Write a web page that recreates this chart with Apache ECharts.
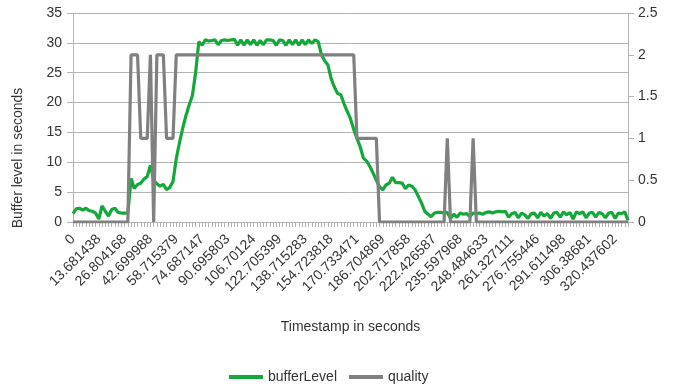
<!DOCTYPE html>
<html>
<head>
<meta charset="utf-8">
<script src="https://cdn.jsdelivr.net/npm/echarts@6/dist/echarts.min.js"></script>
<style>
  html, body { margin: 0; padding: 0; background: #fff; }
  #chart { width: 673px; height: 388px; }
</style>
</head>
<body>
<div id="chart"></div>
<script>
// Labels printed under every 8th sample on the time axis
const tickLabels = [
  '0', '13.681438', '26.804168', '42.699988', '58.715379', '74.687147',
  '90.695803', '106.70124', '122.705399', '138.715283', '154.723818',
  '170.733471', '186.704869', '202.717858', '222.426587', '235.597968',
  '248.484633', '261.327111', '276.755446', '291.611498', '306.38681',
  '320.437602'
];

// Buffer level (seconds), one value per sample
const bufferLevel = [
  1.4, 2.2, 2.3, 2.0, 2.3, 1.9, 1.8, 1.5, 0.5, 2.7,
  1.8, 1.0, 2.1, 2.3, 1.6, 1.5, 1.5, 1.5, 7.3, 5.6,
  6.3, 6.5, 7.2, 7.6, 9.5, 7.0, 6.4, 6.0, 6.3, 5.4,
  5.8, 6.8, 10.6, 13.3, 15.7, 17.8, 19.6, 21.2, 25.0, 30.2,
  29.6, 30.5, 30.3, 30.4, 30.5, 29.7, 30.4, 30.5, 30.4, 30.5,
  30.6, 29.6, 30.5, 29.6, 30.5, 29.7, 30.5, 29.6, 30.4, 29.7,
  30.5, 30.5, 30.4, 29.6, 30.5, 30.4, 29.6, 30.5, 29.7, 30.5,
  29.6, 30.5, 29.7, 30.5, 29.9, 30.5, 30.2, 28.0, 27.0, 26.3,
  24.0, 22.6, 21.5, 21.3, 19.8, 18.5, 17.3, 15.5, 14.0, 12.6,
  10.7, 10.2, 9.3, 8.2, 7.0, 5.9, 5.4, 6.2, 6.5, 7.5,
  6.6, 6.6, 6.5, 5.6, 6.2, 6.0, 5.4, 4.3, 3.2, 1.8,
  1.3, 0.9, 1.5, 1.6, 1.6, 1.5, 1.6, 0.6, 1.3, 0.8,
  1.5, 1.3, 1.4, 0.9, 1.5, 1.4, 1.5, 1.3, 1.6, 1.7,
  1.5, 1.7, 1.8, 1.7, 1.8, 0.8, 1.4, 1.6, 0.7, 1.5,
  1.2, 0.6, 1.4, 1.5, 0.7, 1.6, 1.0, 1.4, 0.6, 1.5,
  1.6, 0.8, 1.7, 1.2, 1.6, 0.5, 1.7, 1.4, 1.7, 0.7,
  1.5, 1.6, 0.8, 1.6, 1.4, 0.7, 1.5, 1.6, 0.6, 1.5,
  1.4, 1.7, 0.3
];

// Selected quality index, one value per sample
const quality = [
  0, 0, 0, 0, 0, 0, 0, 0, 0, 0,
  0, 0, 0, 0, 0, 0, 0, 0, 2, 2,
  2, 1, 1, 1, 2, 0, 2, 2, 2, 1,
  1, 1, 2, 2, 2, 2, 2, 2, 2, 2,
  2, 2, 2, 2, 2, 2, 2, 2, 2, 2,
  2, 2, 2, 2, 2, 2, 2, 2, 2, 2,
  2, 2, 2, 2, 2, 2, 2, 2, 2, 2,
  2, 2, 2, 2, 2, 2, 2, 2, 2, 2,
  2, 2, 2, 2, 2, 2, 2, 2, 1, 1,
  1, 1, 1, 1, 1, 0, 0, 0, 0, 0,
  0, 0, 0, 0, 0, 0, 0, 0, 0, 0,
  0, 0, 0, 0, 0, 0, 1, 0, 0, 0,
  0, 0, 0, 0, 1, 0, 0, 0, 0, 0,
  0, 0, 0, 0, 0, 0, 0, 0, 0, 0,
  0, 0, 0, 0, 0, 0, 0, 0, 0, 0,
  0, 0, 0, 0, 0, 0, 0, 0, 0, 0,
  0, 0, 0, 0, 0, 0, 0, 0, 0, 0,
  0, 0, 0
];

const LABEL_STEP = 8;
const samples = bufferLevel.map((_, i) => i);

const FONT = 'Liberation Sans';
const TEXT = '#333333';
const AXIS = '#b3b3b3';

const chart = echarts.init(document.getElementById('chart'), null, { renderer: 'canvas' });

chart.setOption({
  animation: false,
  textStyle: { fontFamily: FONT },
  grid: { left: 73, right: 45, top: 13, bottom: 166, containLabel: false },
  legend: {
    top: 370,
    left: 229,
    padding: 0,
    icon: 'rect',
    itemWidth: 34,
    itemHeight: 4,
    itemGap: 12,
    textStyle: { fontFamily: FONT, fontSize: 14, color: TEXT },
    data: ['bufferLevel', 'quality']
  },
  xAxis: {
    type: 'category',
    data: samples,
    boundaryGap: false,
    name: 'Timestamp in seconds',
    nameLocation: 'middle',
    nameGap: 98,
    nameTextStyle: { fontFamily: FONT, fontSize: 14, color: TEXT },
    axisLine: { lineStyle: { color: AXIS, width: 1 } },
    axisTick: { interval: 0, length: 5, lineStyle: { color: AXIS } },
    axisLabel: {
      interval: LABEL_STEP - 1,
      rotate: 45,
      margin: 15,
      fontFamily: FONT,
      fontSize: 14,
      color: TEXT,
      formatter: (value, index) => tickLabels[index / LABEL_STEP] || ''
    },
    splitLine: { show: false }
  },
  yAxis: [
    {
      type: 'value',
      min: 0,
      max: 35,
      interval: 5,
      position: 'left',
      axisLine: { show: true, lineStyle: { color: AXIS } },
      axisTick: { show: true, length: 6, lineStyle: { color: AXIS } },
      axisLabel: { margin: 11, fontFamily: FONT, fontSize: 14, color: TEXT },
      splitLine: { show: true, lineStyle: { color: AXIS, width: 1 } }
    },
    {
      type: 'value',
      min: 0,
      max: 2.5,
      interval: 0.5,
      position: 'right',
      axisLine: { show: true, lineStyle: { color: AXIS } },
      axisTick: { show: true, length: 6, lineStyle: { color: AXIS } },
      axisLabel: { margin: 10, fontFamily: FONT, fontSize: 14, color: TEXT },
      splitLine: { show: false }
    }
  ],
  graphic: [
    {
      type: 'text',
      x: 18,
      y: 158,
      rotation: Math.PI / 2,
      style: {
        text: 'Buffer level in seconds',
        fontFamily: FONT,
        fontSize: 14,
        fill: TEXT,
        align: 'center',
        verticalAlign: 'middle'
      }
    }
  ],
  series: [
    {
      name: 'bufferLevel',
      type: 'line',
      yAxisIndex: 0,
      data: bufferLevel,
      symbol: 'none',
      lineStyle: { color: '#14a83a', width: 3.2 },
      itemStyle: { color: '#14a83a' }
    },
    {
      name: 'quality',
      type: 'line',
      yAxisIndex: 1,
      data: quality,
      symbol: 'none',
      lineStyle: { color: '#808080', width: 3.2 },
      itemStyle: { color: '#808080' }
    }
  ]
});
</script>
</body>
</html>
